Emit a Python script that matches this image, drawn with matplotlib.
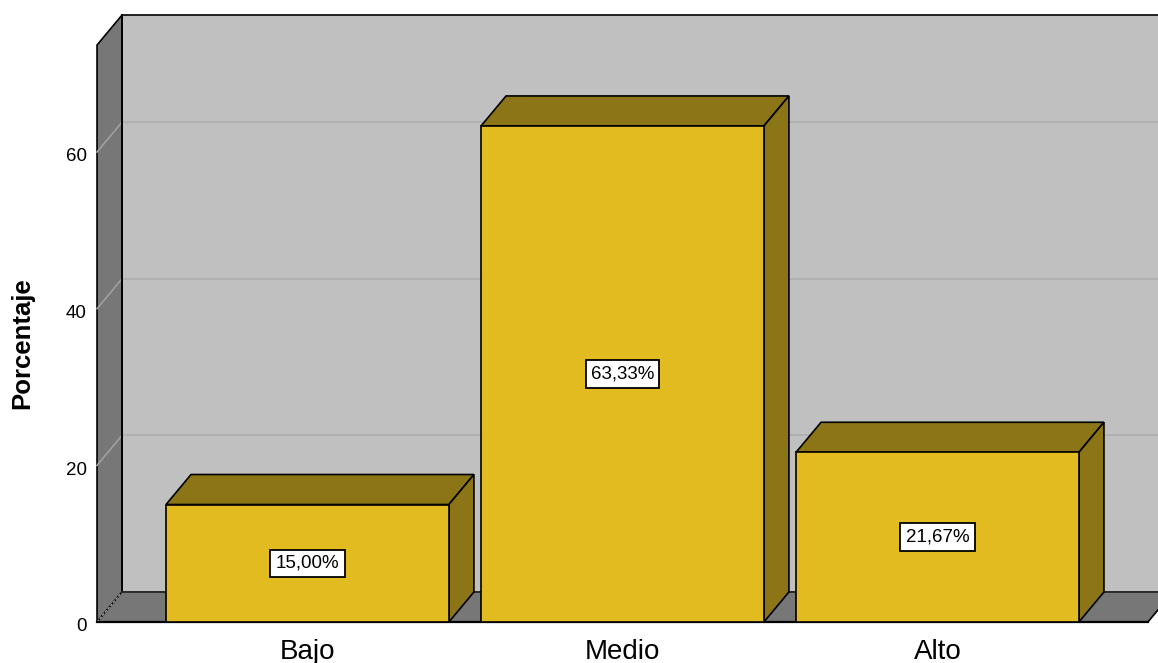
import matplotlib
matplotlib.use("Agg")
import matplotlib.pyplot as plt
from matplotlib.patches import Polygon

categories = ["Bajo", "Medio", "Alto"]
values = [15.00, 63.33, 21.67]
yticks = [0, 20, 40, 60]
ylabel = "Porcentaje"
ymax = 73.66

FRONT = "#E1BB20"
DARK = "#8B7516"
BACKWALL = "#C0C0C0"
SIDEWALL = "#777777"
GRID = "#AEAEAE"

plt.rcParams['font.family'] = ['Liberation Sans', 'DejaVu Sans']

fig = plt.figure(figsize=(11.58, 6.63), dpi=100)
ax = fig.add_axes([0, 0, 1, 1])
ax.set_xlim(-0.976, 2.700)
ax.set_ylim(-5.234, 79.41)
ax.axis('off')

dx, dy = 0.0794, 3.83      # depth offset
xl, xr = -0.668, 2.668     # front left / right of plot frame
hw = 0.449                 # half bar width

def poly(pts, fc, ec="black", lw=1.2, z=1):
    ax.add_patch(Polygon(pts, closed=True, facecolor=fc, edgecolor=ec,
                         linewidth=lw, zorder=z, joinstyle='miter'))

# back wall
poly([(xl + dx, dy), (xr + dx, dy), (xr + dx, dy + ymax), (xl + dx, dy + ymax)],
     BACKWALL, z=1)
# left wall
poly([(xl, 0), (xl + dx, dy), (xl + dx, dy + ymax), (xl, ymax)], SIDEWALL, z=1)
# floor
poly([(xl, 0), (xr, 0), (xr + dx, dy), (xl + dx, dy)], SIDEWALL, z=1)

# gridlines
for t in yticks:
    if t == 0:
        ax.plot([xl, xl + dx], [0, dy], color="#A0A0A0", lw=1, ls=(0, (2, 1)), zorder=2)
        continue
    ax.plot([xl + dx, xr + dx], [t + dy, t + dy], color=GRID, lw=1.2, zorder=2)
    ax.plot([xl, xl + dx], [t, t + dy], color="#A0A0A0", lw=1.2, zorder=2)

# redraw wall edges
ax.plot([xl + dx, xl + dx], [dy, dy + ymax], color="black", lw=1.4, zorder=2)
ax.plot([xl + dx, xr + dx], [dy, dy], color="#333333", lw=1.2, zorder=2)
ax.plot([xl, xr], [0, 0], color="black", lw=1.6, zorder=2)

# bars
for i, (c, v) in enumerate(zip(categories, values)):
    x0, x1 = i - hw, i + hw
    poly([(x0, v), (x1, v), (x1 + dx, v + dy), (x0 + dx, v + dy)], DARK, z=3)
    poly([(x1, 0), (x1 + dx, dy), (x1 + dx, v + dy), (x1, v)], DARK, z=3)
    poly([(x0, 0), (x1, 0), (x1, v), (x0, v)], FRONT, z=4)
    ax.text(i, v / 2, f"{v:.2f}%".replace(".", ","), ha="center", va="center",
            fontsize=13.5, zorder=6,
            bbox=dict(boxstyle="square,pad=0.28", facecolor="white",
                      edgecolor="black", linewidth=1.3))
    ax.text(i, -3.8, c, ha="center", va="center", fontsize=20, zorder=6)

# y ticks
for t in yticks:
    ax.text(xl - 0.033, t - 0.6, str(t), ha="right", va="center", fontsize=13.5)

ax.text(-0.905, 35.6, ylabel, rotation=90, ha="center", va="center",
        fontsize=18.5, fontweight="bold")

fig.savefig("out.png", dpi=100)
